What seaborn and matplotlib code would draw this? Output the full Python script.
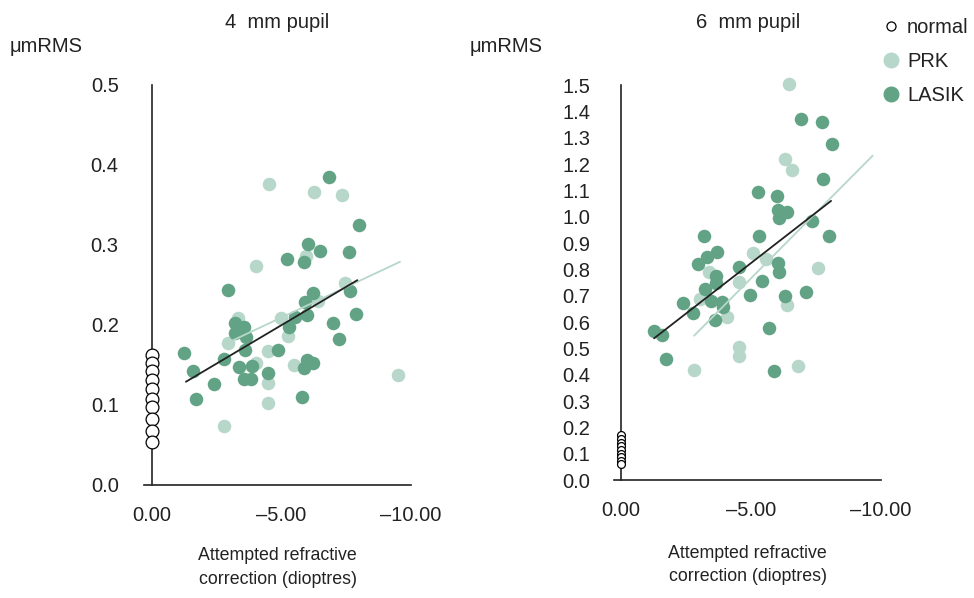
import numpy as np
import pandas as pd
import matplotlib
matplotlib.use("Agg")
import matplotlib.pyplot as plt
from matplotlib.lines import Line2D
import seaborn as sns

# ---- 4 mm pupil: higher-order aberrations (um RMS) vs attempted correction (D)
prk4_x = [-4.52, -6.27, -7.35, -5.95, -4.03, -7.47, -6.40, -4.99, -3.31, -5.24,
          -2.95, -2.78, -4.02, -4.48, -4.48, -4.49, -5.47, -9.49]
prk4_y = [0.376, 0.366, 0.362, 0.286, 0.274, 0.253, 0.230, 0.209, 0.209, 0.186,
          0.177, 0.074, 0.153, 0.167, 0.127, 0.102, 0.150, 0.137]
lasik4_x = [-6.83, -7.99, -6.01, -6.50, -7.62, -5.21, -5.87, -2.95, -7.64, -6.20,
            -5.89, -7.89, -5.98, -5.53, -6.98, -7.23, -3.20, -3.57, -3.22, -3.64,
            -5.30, -1.25, -1.57, -1.69, -2.39, -2.78, -3.60, -3.36, -3.87, -3.57,
            -3.83, -4.85, -4.48, -5.97, -6.23, -5.87, -5.80]
lasik4_y = [0.385, 0.325, 0.301, 0.293, 0.291, 0.283, 0.279, 0.244, 0.243, 0.240,
            0.229, 0.214, 0.213, 0.210, 0.203, 0.182, 0.203, 0.198, 0.190, 0.185,
            0.198, 0.165, 0.142, 0.107, 0.126, 0.158, 0.169, 0.148, 0.149, 0.133,
            0.133, 0.169, 0.140, 0.156, 0.153, 0.146, 0.110]
normal4_y = [0.163, 0.152, 0.142, 0.131, 0.120, 0.108, 0.097, 0.083, 0.068, 0.054]

# ---- 6 mm pupil
prk6_x = [-6.45, -6.32, -6.58, -5.06, -5.58, -7.59, -3.40, -4.54, -3.04, -6.37,
          -4.06, -2.81, -4.55, -4.53, -6.80]
prk6_y = [1.503, 1.219, 1.176, 0.861, 0.838, 0.804, 0.791, 0.753, 0.686, 0.665,
          0.620, 0.418, 0.506, 0.471, 0.434]
lasik6_x = [-6.92, -7.72, -8.10, -7.76, -5.27, -5.99, -6.05, -6.40, -6.08, -7.35,
            -3.19, -5.31, -7.99, -3.70, -3.32, -2.97, -4.53, -6.05, -3.64, -6.09,
            -5.42, -3.64, -3.24, -3.47, -3.88, -3.93, -4.96, -6.30, -7.10, -2.40,
            -2.77, -3.62, -1.27, -1.59, -5.68, -1.74, -5.90]
lasik6_y = [1.372, 1.360, 1.276, 1.144, 1.093, 1.080, 1.025, 1.019, 0.994, 0.985,
            0.927, 0.927, 0.928, 0.865, 0.848, 0.820, 0.810, 0.823, 0.775, 0.789,
            0.757, 0.747, 0.724, 0.681, 0.677, 0.658, 0.703, 0.699, 0.715, 0.673,
            0.633, 0.608, 0.567, 0.552, 0.577, 0.458, 0.414]
normal6_y = [0.170, 0.156, 0.142, 0.128, 0.114, 0.100, 0.087, 0.073, 0.060]

# Linear fits: (intercept, slope, x_start, x_end)
prk4_fit = (0.1333, -0.01521, -2.78, -9.58)
lasik4_fit = (0.1039, -0.01918, -1.31, -7.93)
prk6_fit = (0.2682, -0.09956, -2.81, -9.68)
lasik6_fit = (0.4407, -0.07665, -1.27, -8.08)

x_ticks = [0.0, -5.0, -10.0]
x_tick_labels = ["0.00", "\u20135.00", "\u201310.00"]
y_ticks_4 = [0.0, 0.1, 0.2, 0.3, 0.4, 0.5]
y_ticks_6 = [round(0.1 * i, 1) for i in range(16)]

DARK = "#62a386"
LIGHT = "#b6d7c9"
INK = "#222222"
FS = 14.5

sns.set_style("white")
plt.rcParams["font.family"] = ["Liberation Sans", "DejaVu Sans"]
plt.rcParams["axes.linewidth"] = 1.2

fig = plt.figure(figsize=(9.74, 5.98), dpi=100)
ax4 = fig.add_axes([0.1481, 0.1890, 0.2738, 0.6689])
ax6 = fig.add_axes([0.6307, 0.1973, 0.2738, 0.6605])


def panel(ax, prk_x, prk_y, las_x, las_y, norm_y, prk_fit, las_fit,
          yticks, ylim, xleft, title, norm_size, ypad, xlpad):
    prk = pd.DataFrame({"x": prk_x, "y": prk_y})
    las = pd.DataFrame({"x": las_x, "y": las_y})
    nor = pd.DataFrame({"x": [0.0] * len(norm_y), "y": norm_y})

    sns.scatterplot(data=prk, x="x", y="y", ax=ax, color=LIGHT, s=95,
                    linewidth=0, zorder=3, clip_on=False)
    sns.scatterplot(data=las, x="x", y="y", ax=ax, color=DARK, s=95,
                    linewidth=0, zorder=4, clip_on=False)

    for fit, col, z in ((prk_fit, LIGHT, 5), (las_fit, INK, 6)):
        b0, b1, xs, xe = fit
        xx = np.array([xs, xe])
        line = pd.DataFrame({"x": xx, "y": b0 + b1 * xx})
        sns.lineplot(data=line, x="x", y="y", ax=ax, color=col, lw=1.3,
                     zorder=z, estimator=None, sort=False)

    sns.scatterplot(data=nor, x="x", y="y", ax=ax, facecolor="white",
                    edgecolor="black", linewidth=0.9, s=norm_size,
                    zorder=7, clip_on=False)

    ax.set_xlim(xleft, -10.0)
    ax.set_ylim(*ylim)
    ax.spines["top"].set_visible(False)
    ax.spines["right"].set_visible(False)
    ax.spines["left"].set_position(("data", 0.0))
    ax.spines["left"].set_bounds(yticks[0], yticks[-1])
    for sp in ("left", "bottom"):
        ax.spines[sp].set_color(INK)
    ax.set_xticks(x_ticks)
    ax.set_xticklabels(x_tick_labels)
    ax.set_yticks(yticks)
    ax.set_yticklabels([f"{v:.1f}" for v in yticks])
    ax.tick_params(axis="x", direction="in", length=5, width=1.2,
                   pad=15, labelsize=FS, colors=INK)
    ax.tick_params(axis="y", direction="out", length=5, width=1.2,
                   pad=ypad, labelsize=FS, colors=INK)
    ax.set_xlabel("Attempted refractive\ncorrection (dioptres)",
                  fontsize=12.8, labelpad=xlpad, color=INK, linespacing=1.5)
    ax.set_ylabel("")
    ax.set_title(title, fontsize=FS, pad=41, color=INK)
    ax.patch.set_alpha(0)


panel(ax4, prk4_x, prk4_y, lasik4_x, lasik4_y, normal4_y, prk4_fit, lasik4_fit,
      y_ticks_4, (0.0, 0.5), 0.3, "4  mm pupil", 85, 19, 16)
panel(ax6, prk6_x, prk6_y, lasik6_x, lasik6_y, normal6_y, prk6_fit, lasik6_fit,
      y_ticks_6, (0.0, 1.5), 0.26, "6  mm pupil", 32, 17, 18)

fig.text(10 / 974, 1 - 47 / 598, "\u03bcmRMS", fontsize=FS, va="center",
         ha="left", color=INK)
fig.text(470 / 974, 1 - 47 / 598, "\u03bcmRMS", fontsize=FS, va="center",
         ha="left", color=INK)

handles = [
    Line2D([], [], ls="none", marker="o", ms=6.5, mfc="white", mec="black", mew=0.9),
    Line2D([], [], ls="none", marker="o", ms=10.5, mfc=LIGHT, mec=LIGHT),
    Line2D([], [], ls="none", marker="o", ms=10.5, mfc=DARK, mec=DARK),
]
fig.legend(handles, ["normal", "PRK", "LASIK"], loc="upper left",
           bbox_to_anchor=(884 / 974, 1 - 18 / 598), frameon=False,
           fontsize=FS, handlelength=0.7, handletextpad=0.45,
           labelspacing=0.75, borderpad=0, borderaxespad=0,
           labelcolor=INK)

fig.savefig("out.png", dpi=100, facecolor="white")
